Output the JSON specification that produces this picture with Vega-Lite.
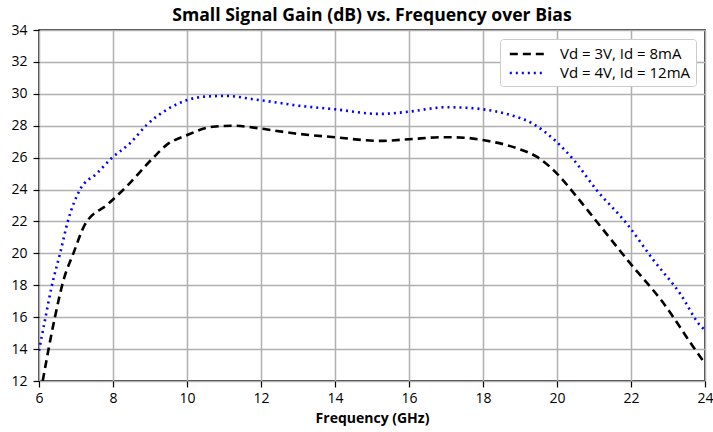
{
  "$schema": "https://vega.github.io/schema/vega-lite/v6.json",
  "width": 666,
  "height": 351,
  "autosize": "none",
  "padding": {"left": 39, "top": 30, "right": 8, "bottom": 51},
  "background": "white",
  "title": {
    "text": "Small Signal Gain (dB) vs. Frequency over Bias",
    "font": "Open Sans",
    "fontSize": 17.6,
    "fontWeight": "bold",
    "color": "black",
    "anchor": "middle",
    "offset": -2
  },
  "config": {
    "view": {"stroke": "black", "strokeWidth": 1.5},
    "font": "Open Sans"
  },
  "data": {
    "values": [
      {"series": "Vd = 3V, Id = 8mA", "freq": 6.1, "gain": 12.0},
      {"series": "Vd = 3V, Id = 8mA", "freq": 6.43, "gain": 16.0},
      {"series": "Vd = 3V, Id = 8mA", "freq": 6.66, "gain": 18.3},
      {"series": "Vd = 3V, Id = 8mA", "freq": 6.93, "gain": 20.0},
      {"series": "Vd = 3V, Id = 8mA", "freq": 7.24, "gain": 21.8},
      {"series": "Vd = 3V, Id = 8mA", "freq": 7.87, "gain": 23.1},
      {"series": "Vd = 3V, Id = 8mA", "freq": 8.37, "gain": 24.2},
      {"series": "Vd = 3V, Id = 8mA", "freq": 9.09, "gain": 26.0},
      {"series": "Vd = 3V, Id = 8mA", "freq": 9.45, "gain": 26.8},
      {"series": "Vd = 3V, Id = 8mA", "freq": 9.99, "gain": 27.4},
      {"series": "Vd = 3V, Id = 8mA", "freq": 10.7, "gain": 27.94},
      {"series": "Vd = 3V, Id = 8mA", "freq": 11.25, "gain": 28.0},
      {"series": "Vd = 3V, Id = 8mA", "freq": 11.97, "gain": 27.83},
      {"series": "Vd = 3V, Id = 8mA", "freq": 12.56, "gain": 27.63},
      {"series": "Vd = 3V, Id = 8mA", "freq": 12.87, "gain": 27.53},
      {"series": "Vd = 3V, Id = 8mA", "freq": 14.0, "gain": 27.28},
      {"series": "Vd = 3V, Id = 8mA", "freq": 15.2, "gain": 27.05},
      {"series": "Vd = 3V, Id = 8mA", "freq": 16.0, "gain": 27.15},
      {"series": "Vd = 3V, Id = 8mA", "freq": 16.9, "gain": 27.28},
      {"series": "Vd = 3V, Id = 8mA", "freq": 17.5, "gain": 27.25},
      {"series": "Vd = 3V, Id = 8mA", "freq": 18.0, "gain": 27.1},
      {"series": "Vd = 3V, Id = 8mA", "freq": 18.9, "gain": 26.6},
      {"series": "Vd = 3V, Id = 8mA", "freq": 19.45, "gain": 26.06},
      {"series": "Vd = 3V, Id = 8mA", "freq": 20.0, "gain": 25.0},
      {"series": "Vd = 3V, Id = 8mA", "freq": 20.53, "gain": 23.56},
      {"series": "Vd = 3V, Id = 8mA", "freq": 21.07, "gain": 22.0},
      {"series": "Vd = 3V, Id = 8mA", "freq": 21.97, "gain": 19.4},
      {"series": "Vd = 3V, Id = 8mA", "freq": 22.87, "gain": 16.9},
      {"series": "Vd = 3V, Id = 8mA", "freq": 23.68, "gain": 14.15},
      {"series": "Vd = 3V, Id = 8mA", "freq": 24.0, "gain": 13.1},
      {"series": "Vd = 4V, Id = 12mA", "freq": 6.0, "gain": 13.9},
      {"series": "Vd = 4V, Id = 12mA", "freq": 6.16, "gain": 15.8},
      {"series": "Vd = 4V, Id = 12mA", "freq": 6.34, "gain": 17.9},
      {"series": "Vd = 4V, Id = 12mA", "freq": 6.57, "gain": 20.0},
      {"series": "Vd = 4V, Id = 12mA", "freq": 6.79, "gain": 22.1},
      {"series": "Vd = 4V, Id = 12mA", "freq": 7.11, "gain": 24.0},
      {"series": "Vd = 4V, Id = 12mA", "freq": 7.56, "gain": 25.0},
      {"series": "Vd = 4V, Id = 12mA", "freq": 7.96, "gain": 25.96},
      {"series": "Vd = 4V, Id = 12mA", "freq": 8.46, "gain": 26.9},
      {"series": "Vd = 4V, Id = 12mA", "freq": 8.91, "gain": 28.05},
      {"series": "Vd = 4V, Id = 12mA", "freq": 9.45, "gain": 29.0},
      {"series": "Vd = 4V, Id = 12mA", "freq": 9.99, "gain": 29.6},
      {"series": "Vd = 4V, Id = 12mA", "freq": 10.53, "gain": 29.83},
      {"series": "Vd = 4V, Id = 12mA", "freq": 11.07, "gain": 29.87},
      {"series": "Vd = 4V, Id = 12mA", "freq": 11.79, "gain": 29.66},
      {"series": "Vd = 4V, Id = 12mA", "freq": 12.56, "gain": 29.41},
      {"series": "Vd = 4V, Id = 12mA", "freq": 12.87, "gain": 29.3},
      {"series": "Vd = 4V, Id = 12mA", "freq": 14.0, "gain": 29.03},
      {"series": "Vd = 4V, Id = 12mA", "freq": 15.2, "gain": 28.74},
      {"series": "Vd = 4V, Id = 12mA", "freq": 16.0, "gain": 28.88},
      {"series": "Vd = 4V, Id = 12mA", "freq": 17.0, "gain": 29.16},
      {"series": "Vd = 4V, Id = 12mA", "freq": 17.5, "gain": 29.13},
      {"series": "Vd = 4V, Id = 12mA", "freq": 18.0, "gain": 29.03},
      {"series": "Vd = 4V, Id = 12mA", "freq": 18.73, "gain": 28.68},
      {"series": "Vd = 4V, Id = 12mA", "freq": 19.36, "gain": 28.11},
      {"series": "Vd = 4V, Id = 12mA", "freq": 19.95, "gain": 27.07},
      {"series": "Vd = 4V, Id = 12mA", "freq": 20.45, "gain": 25.86},
      {"series": "Vd = 4V, Id = 12mA", "freq": 21.07, "gain": 23.97},
      {"series": "Vd = 4V, Id = 12mA", "freq": 21.88, "gain": 21.88},
      {"series": "Vd = 4V, Id = 12mA", "freq": 22.6, "gain": 19.6},
      {"series": "Vd = 4V, Id = 12mA", "freq": 23.32, "gain": 17.5},
      {"series": "Vd = 4V, Id = 12mA", "freq": 23.9, "gain": 15.4},
      {"series": "Vd = 4V, Id = 12mA", "freq": 24.0, "gain": 15.2}
    ]
  },
  "mark": {"type": "line", "interpolate": "monotone", "strokeWidth": 2.6, "clip": true},
  "encoding": {
    "x": {
      "field": "freq",
      "type": "quantitative",
      "scale": {"domain": [6, 24], "nice": false},
      "axis": {
        "title": "Frequency (GHz)",
        "titleFont": "Open Sans",
        "titleFontSize": 14,
        "titleFontWeight": "bold",
        "titleColor": "black",
        "titlePadding": 6,
        "values": [6, 8, 10, 12, 14, 16, 18, 20, 22, 24],
        "labelFont": "Open Sans",
        "labelFontSize": 14,
        "labelColor": "black",
        "labelPadding": 4,
        "labelFlush": false,
        "tickColor": "black",
        "tickSize": 6,
        "tickWidth": 1.2,
        "domain": false,
        "grid": true,
        "gridColor": "#b0b0b0",
        "gridWidth": 1.5
      }
    },
    "y": {
      "field": "gain",
      "type": "quantitative",
      "scale": {"domain": [12, 34], "nice": false, "zero": false},
      "axis": {
        "title": null,
        "values": [12, 14, 16, 18, 20, 22, 24, 26, 28, 30, 32, 34],
        "labelFont": "Open Sans",
        "labelFontSize": 14,
        "labelColor": "black",
        "labelPadding": 6,
        "labelFlush": false,
        "tickColor": "black",
        "tickSize": 6,
        "tickWidth": 1.2,
        "domain": false,
        "grid": true,
        "gridColor": "#b0b0b0",
        "gridWidth": 1.5
      }
    },
    "color": {
      "field": "series",
      "type": "nominal",
      "scale": {"range": ["black", "blue"]},
      "legend": {
        "title": null,
        "orient": "top-right",
        "offset": 9,
        "fillColor": "white",
        "strokeColor": "#cccccc",
        "cornerRadius": 3,
        "padding": 5,
        "labelFont": "Open Sans",
        "labelFontSize": 15,
        "labelColor": "black",
        "labelOffset": 35,
        "symbolType": "M-0.6,0H3.4",
        "symbolSize": 300,
        "symbolStrokeWidth": 2.6,
        "rowPadding": 1
      }
    },
    "strokeDash": {
      "field": "series",
      "type": "nominal",
      "scale": {"range": [[8, 5], [2, 4]]},
      "legend": null
    }
  }
}
